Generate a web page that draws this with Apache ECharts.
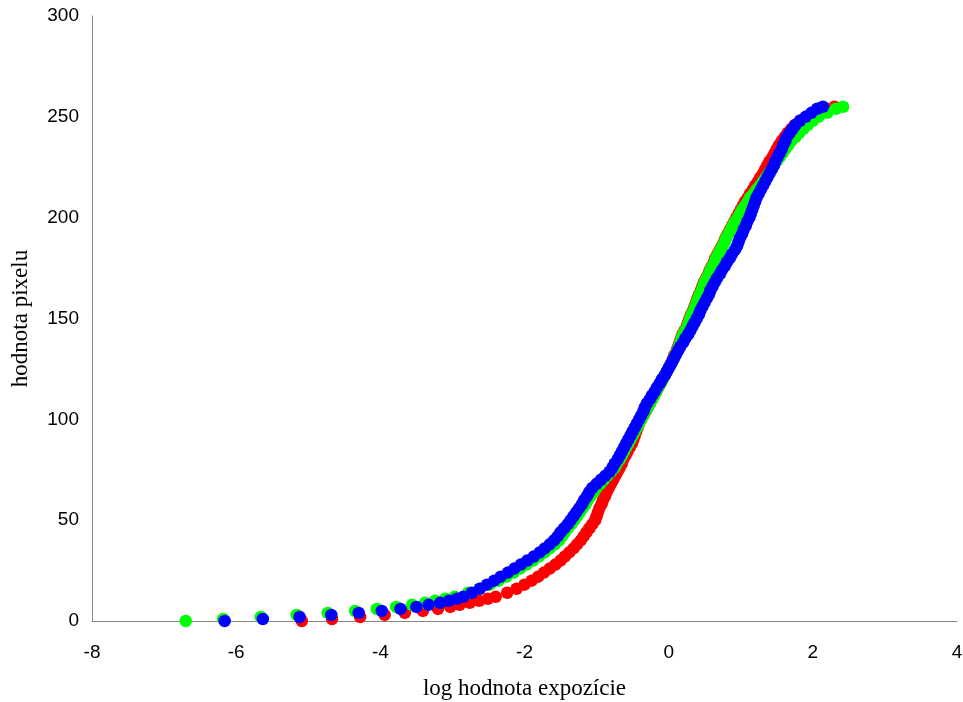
<!DOCTYPE html>
<html lang="sk">
  <head>
    <meta charset="UTF-8" />
    <title>hodnota pixelu</title>
    <script src="https://cdn.jsdelivr.net/npm/echarts@6/dist/echarts.min.js"></script>
    <style>
      * {
        margin: 0;
        padding: 0;
      }
    </style>
  </head>
  <body>
    <div id="charts" style="width: 963px; height: 702px"></div>
    <script>
      // pixel values (y), shared by all three channels
      var levels = [
        0, 1, 2, 3, 4, 5, 6, 7, 8, 9, 10, 11, 12,
        14, 16, 18, 20, 22, 24, 26, 28, 30, 32,
        34, 36, 38, 40, 42, 44, 46, 48, 50, 52,
        54, 56, 58, 60, 62, 64, 66, 68, 70, 72,
        74, 76, 78, 80, 82, 84, 86, 88, 90, 92,
        94, 96, 98, 100, 102, 104, 106, 108, 110, 112,
        114, 116, 118, 120, 122, 124, 126, 128, 130, 132,
        134, 136, 138, 140, 142, 144, 146, 148, 150, 152,
        154, 156, 158, 160, 162, 164, 166, 168, 170, 172,
        174, 176, 178, 180, 182, 184, 186, 188, 190, 192,
        194, 196, 198, 200, 202, 204, 206, 208, 210, 212,
        214, 216, 218, 220, 222, 224, 226, 228, 230, 232,
        234, 236, 238, 240, 242, 244, 246, 248, 250, 252,
        254, 255
      ];

      // log exposure (x) for each level
      var redX = [
        -5.09, -4.67, -4.28, -3.94, -3.66, -3.41, -3.2, -3.03, -2.9, -2.76, -2.63, -2.51, -2.4,
        -2.24, -2.11, -2.0, -1.9, -1.81, -1.73, -1.65, -1.57, -1.5, -1.44,
        -1.38, -1.32, -1.27, -1.22, -1.18, -1.14, -1.1, -1.06, -1.02, -1.0,
        -0.98, -0.96, -0.93, -0.91, -0.88, -0.86, -0.83, -0.8, -0.77, -0.74,
        -0.71, -0.68, -0.65, -0.63, -0.6, -0.57, -0.54, -0.51, -0.49, -0.47,
        -0.45, -0.43, -0.41, -0.38, -0.35, -0.32, -0.29, -0.26, -0.23, -0.2,
        -0.17, -0.14, -0.11, -0.08, -0.05, -0.02, 0.01, 0.04, 0.06, 0.08,
        0.11, 0.13, 0.15, 0.17, 0.19, 0.22, 0.25, 0.27, 0.29, 0.31,
        0.34, 0.36, 0.38, 0.4, 0.42, 0.45, 0.47, 0.49, 0.52, 0.55,
        0.57, 0.6, 0.63, 0.65, 0.68, 0.71, 0.74, 0.77, 0.79, 0.82,
        0.85, 0.88, 0.91, 0.94, 0.97, 1.0, 1.03, 1.06, 1.1, 1.13,
        1.17, 1.2, 1.24, 1.27, 1.31, 1.34, 1.37, 1.4, 1.44, 1.47,
        1.5, 1.53, 1.57, 1.61, 1.65, 1.7, 1.75, 1.82, 1.91, 2.02,
        2.18, 2.3
      ];
      var greenX = [
        -6.7, -6.18, -5.66, -5.16, -4.73, -4.35, -4.05, -3.78, -3.56, -3.38, -3.24, -3.1, -2.97,
        -2.78, -2.62, -2.48, -2.36, -2.25, -2.15, -2.06, -1.97, -1.88, -1.8,
        -1.72, -1.65, -1.58, -1.52, -1.48, -1.44, -1.4, -1.35, -1.31, -1.27,
        -1.23, -1.19, -1.15, -1.12, -1.08, -1.04, -1.0, -0.95, -0.9, -0.85,
        -0.8, -0.75, -0.72, -0.68, -0.65, -0.62, -0.59, -0.56, -0.53, -0.5,
        -0.47, -0.44, -0.41, -0.38, -0.35, -0.32, -0.29, -0.26, -0.23, -0.2,
        -0.17, -0.14, -0.11, -0.08, -0.05, -0.02, 0.01, 0.04, 0.07, 0.09,
        0.12, 0.14, 0.16, 0.18, 0.2, 0.23, 0.26, 0.28, 0.3, 0.32,
        0.35, 0.37, 0.39, 0.41, 0.43, 0.46, 0.48, 0.5, 0.53, 0.56,
        0.58, 0.61, 0.64, 0.66, 0.69, 0.72, 0.75, 0.78, 0.8, 0.83,
        0.86, 0.89, 0.92, 0.96, 0.99, 1.02, 1.06, 1.1, 1.13, 1.18,
        1.22, 1.27, 1.31, 1.35, 1.39, 1.43, 1.46, 1.5, 1.54, 1.58,
        1.62, 1.66, 1.7, 1.76, 1.81, 1.87, 1.93, 2.0, 2.08, 2.2,
        2.32, 2.42
      ];
      var blueX = [
        -6.16, -5.63, -5.12, -4.68, -4.3, -3.98, -3.72, -3.5, -3.33, -3.17, -3.05, -2.94, -2.85,
        -2.73, -2.62, -2.52, -2.42, -2.33, -2.23, -2.14, -2.05, -1.96, -1.87,
        -1.79, -1.72, -1.65, -1.59, -1.54, -1.5, -1.45, -1.4, -1.36, -1.32,
        -1.28, -1.24, -1.2, -1.17, -1.13, -1.1, -1.06, -1.0, -0.94, -0.88,
        -0.82, -0.78, -0.75, -0.71, -0.68, -0.65, -0.62, -0.59, -0.56, -0.53,
        -0.5, -0.47, -0.44, -0.41, -0.38, -0.35, -0.33, -0.3, -0.26, -0.23,
        -0.19, -0.16, -0.12, -0.09, -0.05, -0.02, 0.01, 0.04, 0.07, 0.1,
        0.13, 0.16, 0.2, 0.23, 0.27, 0.3, 0.33, 0.36, 0.39, 0.42,
        0.44, 0.47, 0.5, 0.53, 0.56, 0.58, 0.61, 0.64, 0.67, 0.71,
        0.74, 0.78, 0.81, 0.85, 0.88, 0.92, 0.95, 0.97, 0.99, 1.02,
        1.04, 1.07, 1.09, 1.12, 1.14, 1.16, 1.18, 1.2, 1.22, 1.25,
        1.28, 1.31, 1.34, 1.37, 1.4, 1.43, 1.46, 1.48, 1.51, 1.54,
        1.57, 1.59, 1.62, 1.64, 1.68, 1.72, 1.76, 1.82, 1.9, 1.98,
        2.06, 2.14
      ];

      var channels = [
        { name: "R", xs: redX, color: "#ff0000" },
        { name: "G", xs: greenX, color: "#00ff00" },
        { name: "B", xs: blueX, color: "#0000ff" },
      ];

      var labelFont = "'Liberation Sans', Arial, sans-serif";
      var nameFont = "'Liberation Serif', 'Times New Roman', serif";

      var myEcharts = echarts.init(document.getElementById("charts"));
      var options = {
        animation: false,
        grid: { left: 92, right: 6, top: 16, bottom: 81, outerBoundsMode: "none" },
        xAxis: {
          type: "value",
          min: -8,
          max: 4,
          interval: 2,
          name: "log hodnota expozície",
          nameLocation: "middle",
          nameGap: 56,
          nameTextStyle: { fontFamily: nameFont, fontSize: 23, color: "#000" },
          axisLine: { onZero: false, lineStyle: { color: "#868686", width: 1 } },
          axisTick: { show: false },
          splitLine: { show: false },
          axisLabel: { fontFamily: labelFont, fontSize: 19, color: "#000", margin: 22 },
        },
        yAxis: {
          type: "value",
          min: 0,
          max: 300,
          interval: 50,
          name: "hodnota pixelu",
          nameLocation: "middle",
          nameGap: 60,
          nameTextStyle: { fontFamily: nameFont, fontSize: 23, color: "#000" },
          axisLine: { show: true, onZero: false, lineStyle: { color: "#868686", width: 1 } },
          axisTick: { show: false },
          splitLine: { show: false },
          axisLabel: { fontFamily: labelFont, fontSize: 19, color: "#000", margin: 13 },
        },
        series: channels.map(function (ch) {
          return {
            type: "scatter",
            name: ch.name,
            symbol: "circle",
            symbolSize: 12.5,
            itemStyle: { color: ch.color, opacity: 1 },
            emphasis: { disabled: true },
            data: ch.xs.map(function (x, i) {
              return [x, levels[i]];
            }),
          };
        }),
      };
      myEcharts.setOption(options);
    </script>
  </body>
</html>
